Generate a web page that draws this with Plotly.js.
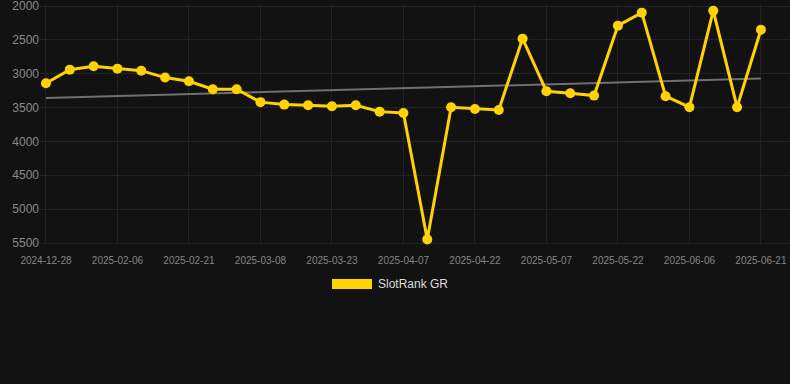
<!DOCTYPE html>
<html>
<head>
<meta charset="utf-8">
<script src="https://cdn.plot.ly/plotly-3.0.1.min.js"></script>
<style>html,body{margin:0;padding:0;background:#121212;}#chart{width:790px;height:384px;}</style>
</head>
<body>
<div id="chart"></div>
<script>
const dates = [
  "2024-12-28","2025-01-27","2025-02-01","2025-02-06","2025-02-11","2025-02-16",
  "2025-02-21","2025-02-26","2025-03-03","2025-03-08","2025-03-13","2025-03-18",
  "2025-03-23","2025-03-28","2025-04-02","2025-04-07","2025-04-12","2025-04-17",
  "2025-04-22","2025-04-27","2025-05-02","2025-05-07","2025-05-12","2025-05-17",
  "2025-05-22","2025-05-27","2025-06-01","2025-06-06","2025-06-11","2025-06-16",
  "2025-06-21"
];
const rankGR = [
  3140, 2940, 2890, 2925, 2955, 3057, 3111, 3229, 3229, 3420, 3456, 3465,
  3480, 3465, 3560, 3580, 5447, 3495, 3520, 3535, 2482, 3259, 3288, 3323,
  2290, 2098, 3332, 3495, 2069, 3495, 2350
];
const trendDates = ["2024-12-28", "2025-06-21"];
const trendValues = [3357, 3072];
const tickDates = dates.filter((d, i) => i % 3 === 0);
const yTicks = [2000, 2500, 3000, 3500, 4000, 4500, 5000, 5500];

const traces = [
  {
    x: trendDates, y: trendValues, type: "scatter", mode: "lines",
    line: {color: "#707070", width: 2}, hoverinfo: "skip", showlegend: false
  },
  {
    x: dates, y: rankGR, type: "scatter", mode: "lines+markers", name: "SlotRank GR",
    line: {color: "#FFD200", width: 3},
    marker: {color: "#FFD200", size: 10},
    showlegend: false
  }
];

const layout = {
  width: 790, height: 384,
  paper_bgcolor: "#121212", plot_bgcolor: "#121212",
  margin: {l: 40, r: 0, t: 4, b: 139},
  font: {family: "Arial, Liberation Sans, sans-serif", color: "#888"},
  xaxis: {
    type: "category", categoryorder: "array", categoryarray: dates,
    range: [-0.25, 31.22],
    tickmode: "array", tickvals: tickDates, ticktext: tickDates,
    tickfont: {size: 10, color: "#858585"},
    ticklabelstandoff: 8,
    showgrid: true, gridcolor: "#222222", gridwidth: 1,
    zeroline: false, showline: false, ticks: "", ticklen: 0
  },
  yaxis: {
    range: [5529.5, 1970.5],
    tickmode: "array", tickvals: yTicks, ticktext: yTicks.map(String),
    tickfont: {size: 12, color: "#8a8a8a"},
    ticklabeloverflow: "allow",
    showgrid: true, gridcolor: "#232323", gridwidth: 1,
    zeroline: false, showline: false, ticks: "", ticklen: 0
  },
  shapes: [{
    type: "rect", xref: "paper", yref: "paper",
    x0: 0.3893, x1: 0.4427, y0: -0.1411, y1: -0.1826,
    fillcolor: "#FFD200", line: {width: 0}
  }],
  annotations: [{
    xref: "paper", yref: "paper", x: 0.4480, y: -0.1618,
    xanchor: "left", yanchor: "middle", showarrow: false,
    text: "SlotRank GR", font: {size: 12, color: "#dddddd"}
  }],
  showlegend: false
};

Plotly.newPlot("chart", traces, layout, {displayModeBar: false, staticPlot: true});
</script>
</body>
</html>
